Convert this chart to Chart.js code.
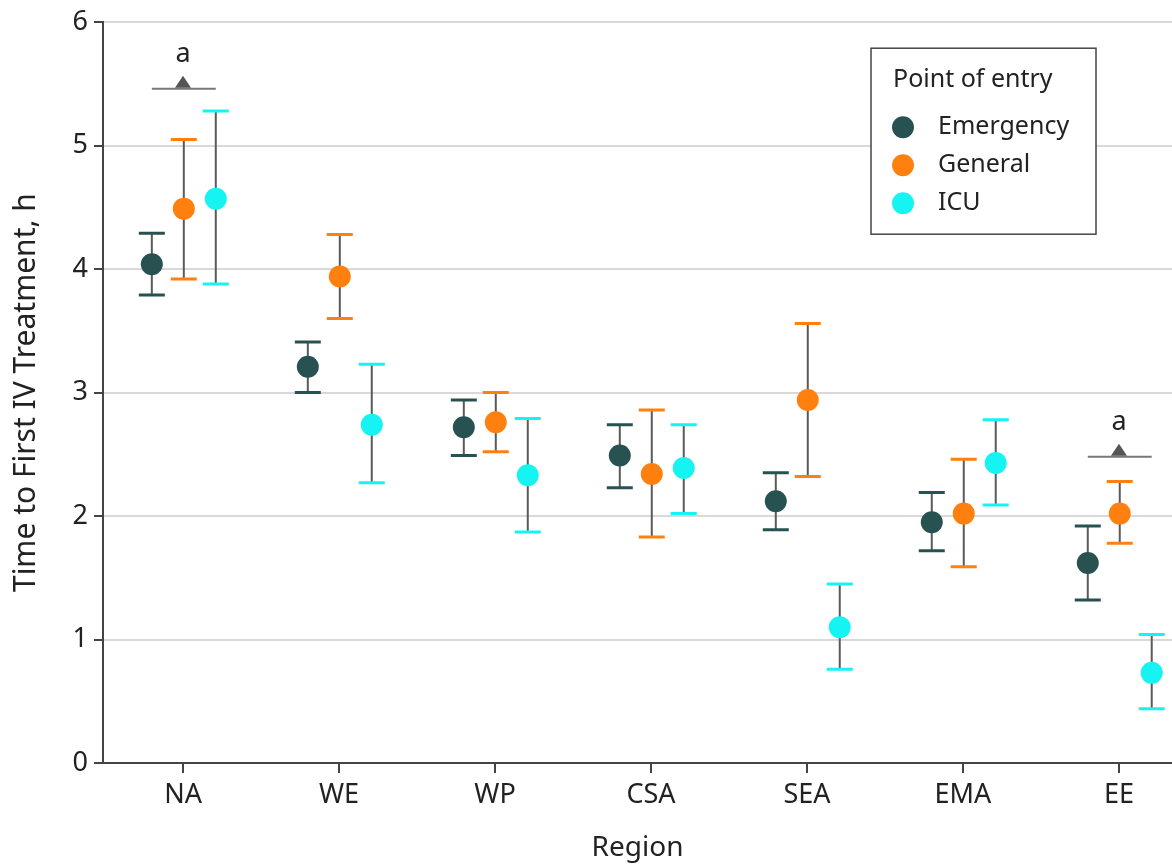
<!DOCTYPE html>
<html>
<head>
<meta charset="utf-8">
<script src="https://cdn.jsdelivr.net/npm/chart.js@4.4.1/dist/chart.umd.min.js"></script>
<style>
  html, body { margin: 0; padding: 0; background: #fff; }
  #wrap { width: 1172px; height: 867px; }
</style>
</head>
<body>
<div id="wrap"><canvas id="time-chart" width="1172" height="867"></canvas></div>
<script>
// regions on the x axis
const regions = ['NA', 'WE', 'WP', 'CSA', 'SEA', 'EMA', 'EE'];
const yTicks = [0, 1, 2, 3, 4, 5, 6];

// mean time to first IV treatment (h) with 95% CI, per point of entry
const emergencyMean  = [4.04, 3.21, 2.72, 2.49, 2.12, 1.95, 1.62];
const emergencyLower = [3.79, 3.00, 2.49, 2.23, 1.89, 1.72, 1.32];
const emergencyUpper = [4.29, 3.41, 2.94, 2.74, 2.35, 2.19, 1.92];

const generalMean  = [4.49, 3.94, 2.76, 2.34, 2.94, 2.02, 2.02];
const generalLower = [3.92, 3.60, 2.52, 1.83, 2.32, 1.59, 1.78];
const generalUpper = [5.05, 4.28, 3.00, 2.86, 3.56, 2.46, 2.28];

const icuMean  = [4.57, 2.74, 2.33, 2.39, 1.10, 2.43, 0.73];
const icuLower = [3.88, 2.27, 1.87, 2.02, 0.76, 2.09, 0.44];
const icuUpper = [5.28, 3.23, 2.79, 2.74, 1.45, 2.78, 1.04];

// significance markers ("a") above a region group
const markRegions = [0, 6];
const markLevels = [5.46, 2.48];

const FONT = '"Noto Sans", "Open Sans", sans-serif';
const series = [
    {label: 'Emergency', mean: emergencyMean, lower: emergencyLower, upper: emergencyUpper, color: '#285151', shift: -0.2},
    {label: 'General', mean: generalMean, lower: generalLower, upper: generalUpper, color: '#ff800e', shift: 0.005},
    {label: 'ICU', mean: icuMean, lower: icuLower, upper: icuUpper, color: '#16f3f3', shift: 0.21},
];

const errorBars = {
    id: 'errorBars',
    beforeDatasetsDraw(chart) {
        const {ctx, scales: {x, y}} = chart;
        ctx.save();
        series.forEach(s => {
            s.mean.forEach((m, i) => {
                const px = x.getPixelForValue(i + s.shift);
                const top = y.getPixelForValue(s.upper[i]);
                const bot = y.getPixelForValue(s.lower[i]);
                ctx.strokeStyle = '#5a5a5a';
                ctx.lineWidth = 2;
                ctx.beginPath();
                ctx.moveTo(px, top);
                ctx.lineTo(px, bot);
                ctx.stroke();
                ctx.strokeStyle = s.color;
                ctx.lineWidth = 3;
                ctx.beginPath();
                ctx.moveTo(px - 13, top); ctx.lineTo(px + 13, top);
                ctx.moveTo(px - 13, bot); ctx.lineTo(px + 13, bot);
                ctx.stroke();
            });
        });
        // "a" markers
        markRegions.forEach((r, k) => {
            const x0 = x.getPixelForValue(r - 0.2);
            const x1 = x.getPixelForValue(r + 0.21);
            const xc = x.getPixelForValue(r);
            const py = y.getPixelForValue(markLevels[k]);
            ctx.strokeStyle = '#777';
            ctx.lineWidth = 2;
            ctx.beginPath();
            ctx.moveTo(x0, py); ctx.lineTo(x1, py);
            ctx.stroke();
            ctx.fillStyle = '#555';
            ctx.beginPath();
            ctx.moveTo(xc - 8, py - 1); ctx.lineTo(xc + 8, py - 1); ctx.lineTo(xc, py - 13);
            ctx.closePath();
            ctx.fill();
            ctx.fillStyle = '#222';
            ctx.font = '27px ' + FONT;
            ctx.textAlign = 'center';
            ctx.textBaseline = 'alphabetic';
            ctx.fillText('a', xc, py - 27);
        });
        ctx.restore();
    }
};

const legendBox = {
    id: 'legendBox',
    afterDraw(chart) {
        const {ctx, chartArea} = chart;
        const left = chartArea.left + 768, top = chartArea.top + 26;
        ctx.save();
        ctx.fillStyle = '#fff';
        ctx.fillRect(left, top, 225, 186);
        ctx.strokeStyle = '#444';
        ctx.lineWidth = 1.5;
        ctx.strokeRect(left, top, 225, 186);
        ctx.fillStyle = '#222';
        ctx.font = '25px ' + FONT;
        ctx.textBaseline = 'middle';
        ctx.textAlign = 'left';
        ctx.fillText('Point of entry', left + 22, top + 32);
        series.forEach((s, i) => {
            const cy = top + 79 + i * 38;
            ctx.fillStyle = s.color;
            ctx.beginPath();
            ctx.arc(left + 32, cy, 11, 0, Math.PI * 2);
            ctx.fill();
            ctx.fillStyle = '#222';
            ctx.fillText(s.label, left + 67, cy);
        });
        ctx.restore();
    }
};

function setupChart() {
    const ctx = document.getElementById('time-chart');

    const config = {
        type: 'scatter',
        data: {
            datasets: series.map(s => ({
                label: s.label,
                data: s.mean.map((m, i) => ({x: i + s.shift, y: m})),
                backgroundColor: s.color,
                borderWidth: 0,
                pointRadius: 11,
                pointHoverRadius: 11,
                clip: false
            }))
        },
        options: {
            responsive: false,
            animation: false,
            layout: {
                autoPadding: false,
                padding: {top: 22, right: 0, bottom: 0, left: 0}
            },
            plugins: {
                legend: {display: false},
                tooltip: {enabled: false}
            },
            scales: {
                x: {
                    type: 'linear',
                    min: -0.513,
                    max: 6.34,
                    afterBuildTicks: scale => {
                        scale.ticks = regions.map((r, i) => ({value: i}));
                    },
                    afterFit: scale => {
                        scale.paddingLeft = 0;
                        scale.paddingRight = 0;
                        scale.height = 104;
                    },
                    ticks: {
                        callback: v => regions[v],
                        color: '#222',
                        font: {family: FONT, size: 27},
                        padding: 6,
                        maxRotation: 0
                    },
                    grid: {
                        drawOnChartArea: false,
                        tickColor: '#444',
                        tickLength: 10,
                        lineWidth: 2
                    },
                    border: {color: '#444', width: 2},
                    title: {
                        display: true,
                        text: 'Region',
                        color: '#222',
                        font: {family: FONT, size: 28},
                        padding: {top: 14, bottom: 2}
                    }
                },
                y: {
                    min: 0,
                    max: 6,
                    afterBuildTicks: scale => {
                        scale.ticks = yTicks.map(v => ({value: v}));
                    },
                    afterFit: scale => { scale.width = 103; },
                    ticks: {
                        color: '#222',
                        font: {family: FONT, size: 27},
                        padding: 6
                    },
                    grid: {
                        color: '#d9d9d9',
                        lineWidth: 2,
                        tickColor: '#444',
                        tickLength: 9
                    },
                    border: {color: '#444', width: 2},
                    title: {
                        display: true,
                        text: 'Time to First IV Treatment, h',
                        color: '#222',
                        font: {family: FONT, size: 30},
                        padding: {top: 8, bottom: 0}
                    }
                }
            }
        },
        plugins: [errorBars, legendBox]
    };

    return new Chart(ctx, config);
}

setupChart();
</script>
</body>
</html>
